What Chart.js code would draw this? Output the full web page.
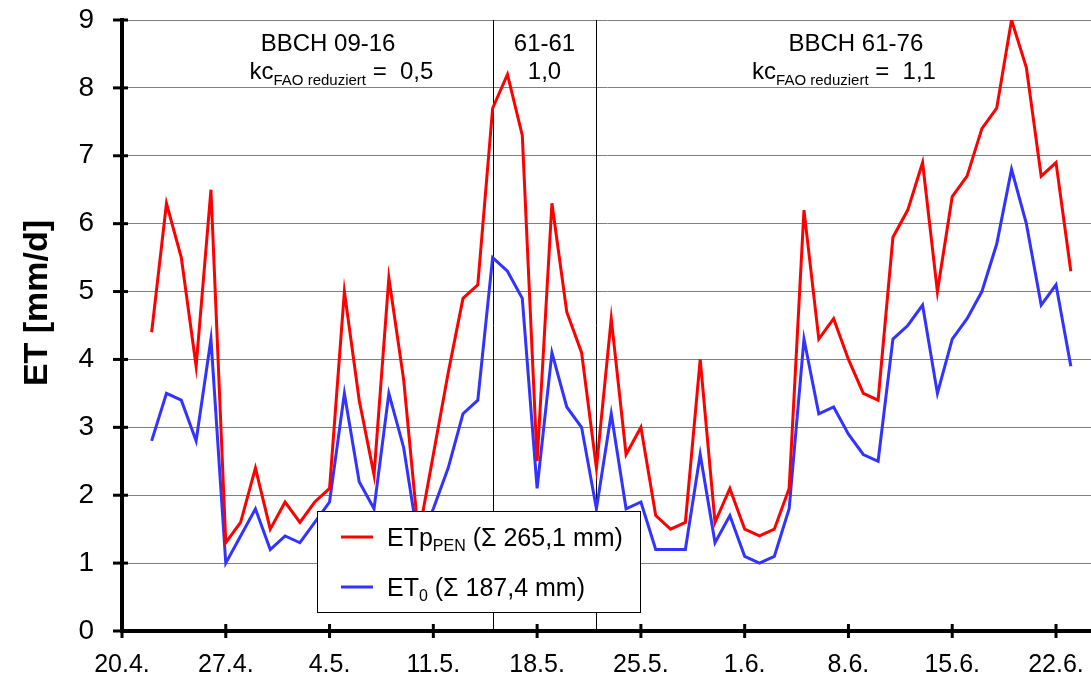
<!DOCTYPE html>
<html>
<head>
<meta charset="utf-8">
<title>ET</title>
<script src="https://cdn.jsdelivr.net/npm/chart.js@4/dist/chart.umd.min.js"></script>
<style>
    html, body { margin: 0; padding: 0; background: #fff; }
    #wrap { width: 1091px; height: 675px; }
</style>
</head>
<body>
<div id="wrap"><canvas id="chart-et"></canvas></div>
<script>
const FONT = "'Liberation Sans', Arial, sans-serif";

// x axis runs in days since 20.4.
const tickLabels = ['20.4.', '27.4.', '4.5.', '11.5.', '18.5.', '25.5.', '1.6.', '8.6.', '15.6.', '22.6.'];
const firstDay = 2; // first value is 22.4.

const dates = [
    '22.4.', '23.4.', '24.4.', '25.4.', '26.4.', '27.4.', '28.4.', '29.4.', '30.4.',
    '1.5.', '2.5.', '3.5.', '4.5.', '5.5.', '6.5.', '7.5.', '8.5.', '9.5.', '10.5.',
    '11.5.', '12.5.', '13.5.', '14.5.', '15.5.', '16.5.', '17.5.', '18.5.', '19.5.', '20.5.',
    '21.5.', '22.5.', '23.5.', '24.5.', '25.5.', '26.5.', '27.5.', '28.5.', '29.5.', '30.5.', '31.5.',
    '1.6.', '2.6.', '3.6.', '4.6.', '5.6.', '6.6.', '7.6.', '8.6.', '9.6.', '10.6.',
    '11.6.', '12.6.', '13.6.', '14.6.', '15.6.', '16.6.', '17.6.', '18.6.', '19.6.', '20.6.',
    '21.6.', '22.6.', '23.6.',
];

const etpPen = [
    4.4, 6.3, 5.5, 3.9, 6.5, 1.3, 1.6, 2.4, 1.5,
    1.9, 1.6, 1.9, 2.1, 5.0, 3.4, 2.3, 5.2, 3.7, 1.4,
    2.6, 3.8, 4.9, 5.1, 7.7, 8.2, 7.3, 2.5, 6.3, 4.7,
    4.1, 2.4, 4.6, 2.6, 3.0, 1.7, 1.5, 1.6, 4.0, 1.6, 2.1,
    1.5, 1.4, 1.5, 2.1, 6.2, 4.3, 4.6, 4.0, 3.5, 3.4,
    5.8, 6.2, 6.9, 5.0, 6.4, 6.7, 7.4, 7.7, 9.0, 8.3,
    6.7, 6.9, 5.3,
];

const et0 = [
    2.8, 3.5, 3.4, 2.8, 4.3, 1.0, 1.4, 1.8, 1.2,
    1.4, 1.3, 1.6, 1.9, 3.5, 2.2, 1.8, 3.5, 2.7, 1.3,
    1.8, 2.4, 3.2, 3.4, 5.5, 5.3, 4.9, 2.1, 4.1, 3.3,
    3.0, 1.8, 3.2, 1.8, 1.9, 1.2, 1.2, 1.2, 2.6, 1.3, 1.7,
    1.1, 1.0, 1.1, 1.8, 4.3, 3.2, 3.3, 2.9, 2.6, 2.5,
    4.3, 4.5, 4.8, 3.5, 4.3, 4.6, 5.0, 5.7, 6.8, 6.0,
    4.8, 5.1, 3.9,
];

// phase borders at 15.5. and 22.5.
const phaseBreaks = [25, 32];
const phaseNames = ['BBCH 09-16', '61-61', 'BBCH 61-76'];
const phaseKc = ['0,5', '1,0', '1,1'];

const RED = '#ff0000';
const BLUE = '#3333ff';

const toPoints = vals => vals.map((v, i) => ({ x: i + firstDay, y: v }));

// text with subscripts: parts are [text, size, baseline shift]
function drawParts(ctx, parts, x, y, align) {
    let w = 0;
    parts.forEach(p => {
        ctx.font = `${p[1]}px ${FONT}`;
        w += ctx.measureText(p[0]).width;
    });
    let cx = align === 'center' ? x - w / 2 : x;
    ctx.textAlign = 'left';
    ctx.textBaseline = 'alphabetic';
    parts.forEach(p => {
        ctx.font = `${p[1]}px ${FONT}`;
        ctx.fillText(p[0], cx, y + p[2]);
        cx += ctx.measureText(p[0]).width;
    });
}

const overlay = {
    id: 'overlay',
    beforeDatasetsDraw(chart) {
        const { ctx, chartArea, scales } = chart;
        ctx.save();
        ctx.strokeStyle = '#000';
        ctx.lineWidth = 1;
        phaseBreaks.forEach(d => {
            const x = Math.round(scales.x.getPixelForValue(d)) + 0.5;
            ctx.beginPath();
            ctx.moveTo(x, chartArea.top);
            ctx.lineTo(x, chartArea.bottom);
            ctx.stroke();
        });
        ctx.restore();
    },
    afterDraw(chart) {
        const { ctx, chartArea, scales } = chart;
        const xs = scales.x, ys = scales.y;
        ctx.save();
        ctx.fillStyle = '#000';

        // phase headers
        const nameCenters = [13.9, 28.5, 49.5];
        const kcCenters = [14.8, 28.5, 48.7];
        phaseNames.forEach((name, i) => {
            drawParts(ctx, [[name, 24, 0]], xs.getPixelForValue(nameCenters[i]), 51, 'center');
            const x = xs.getPixelForValue(kcCenters[i]);
            if (i === 1) {
                drawParts(ctx, [[phaseKc[i], 24, 0]], x, 79, 'center');
            } else {
                drawParts(ctx, [['kc', 24, 0], ['FAO reduziert', 15, 6], [' =  ' + phaseKc[i], 24, 0]], x, 79, 'center');
            }
        });

        // ticks crossing the axes
        ctx.strokeStyle = '#000';
        ctx.lineWidth = 3;
        ys.ticks.forEach(t => {
            const y = ys.getPixelForValue(t.value);
            ctx.beginPath();
            ctx.moveTo(chartArea.left - 9, y);
            ctx.lineTo(chartArea.left + 6, y);
            ctx.stroke();
        });
        xs.ticks.forEach(t => {
            const x = xs.getPixelForValue(t.value);
            ctx.beginPath();
            ctx.moveTo(x, chartArea.bottom - 7);
            ctx.lineTo(x, chartArea.bottom + 7);
            ctx.stroke();
        });

        // y axis title
        ctx.save();
        ctx.translate(38, 303);
        ctx.rotate(-Math.PI / 2);
        ctx.font = `bold 34px ${FONT}`;
        ctx.textAlign = 'center';
        ctx.textBaseline = 'middle';
        ctx.fillText('ET [mm/d]', 0, 0);
        ctx.restore();

        // legend box
        ctx.fillStyle = '#fff';
        ctx.fillRect(317, 511, 323, 101);
        ctx.strokeStyle = '#000';
        ctx.lineWidth = 1;
        ctx.strokeRect(317.5, 511.5, 323, 101);
        const rows = [
            { color: RED, y: 537, parts: [['ETp', 25, 0], ['PEN', 16, 5], [' (\u03A3 265,1 mm)', 25, 0]] },
            { color: BLUE, y: 587, parts: [['ET', 25, 0], ['0', 16, 5], [' (\u03A3 187,4 mm)', 25, 0]] },
        ];
        rows.forEach(r => {
            ctx.strokeStyle = r.color;
            ctx.lineWidth = 3;
            ctx.beginPath();
            ctx.moveTo(341, r.y);
            ctx.lineTo(373, r.y);
            ctx.stroke();
            ctx.fillStyle = '#000';
            drawParts(ctx, r.parts, 387, r.y + 9, 'left');
        });
        ctx.restore();
    },
};

new Chart(document.getElementById('chart-et'), {
    type: 'line',
    data: {
        datasets: [
            {
                label: 'ETp PEN',
                data: toPoints(etpPen),
                borderColor: RED,
                borderWidth: 3,
                pointRadius: 0,
                tension: 0,
            },
            {
                label: 'ET0',
                data: toPoints(et0),
                borderColor: BLUE,
                borderWidth: 3,
                pointRadius: 0,
                tension: 0,
            },
        ],
    },
    options: {
        responsive: true,
        maintainAspectRatio: false,
        animation: false,
        layout: { padding: { top: 20, left: 0, right: 0, bottom: 0 } },
        plugins: {
            legend: { display: false },
            tooltip: {
                callbacks: {
                    title: items => dates[items[0].dataIndex],
                },
            },
        },
        scales: {
            x: {
                type: 'linear',
                min: 0,
                max: 65.36,
                afterFit: s => { s.height = 44; },
                afterBuildTicks: s => { s.ticks = tickLabels.map((_, i) => ({ value: i * 7 })); },
                ticks: {
                    callback: (val, i) => tickLabels[i],
                    color: '#000',
                    font: { family: FONT, size: 25 },
                    padding: 2,
                    maxRotation: 0,
                    autoSkip: false,
                },
                // invisible tick marks only push the labels down
                grid: { drawOnChartArea: false, drawTicks: true, tickLength: 17, tickColor: 'rgba(0,0,0,0)' },
                border: { color: '#000', width: 4 },
            },
            y: {
                min: 0,
                max: 9,
                afterFit: s => { s.width = 122; },
                ticks: {
                    stepSize: 1,
                    color: '#000',
                    font: { family: FONT, size: 28 },
                    padding: 2,
                },
                grid: { color: '#808080', lineWidth: 1, drawTicks: true, tickLength: 26, tickColor: 'rgba(0,0,0,0)' },
                border: { color: '#000', width: 4 },
            },
        },
    },
    plugins: [overlay],
});
</script>
</body>
</html>
